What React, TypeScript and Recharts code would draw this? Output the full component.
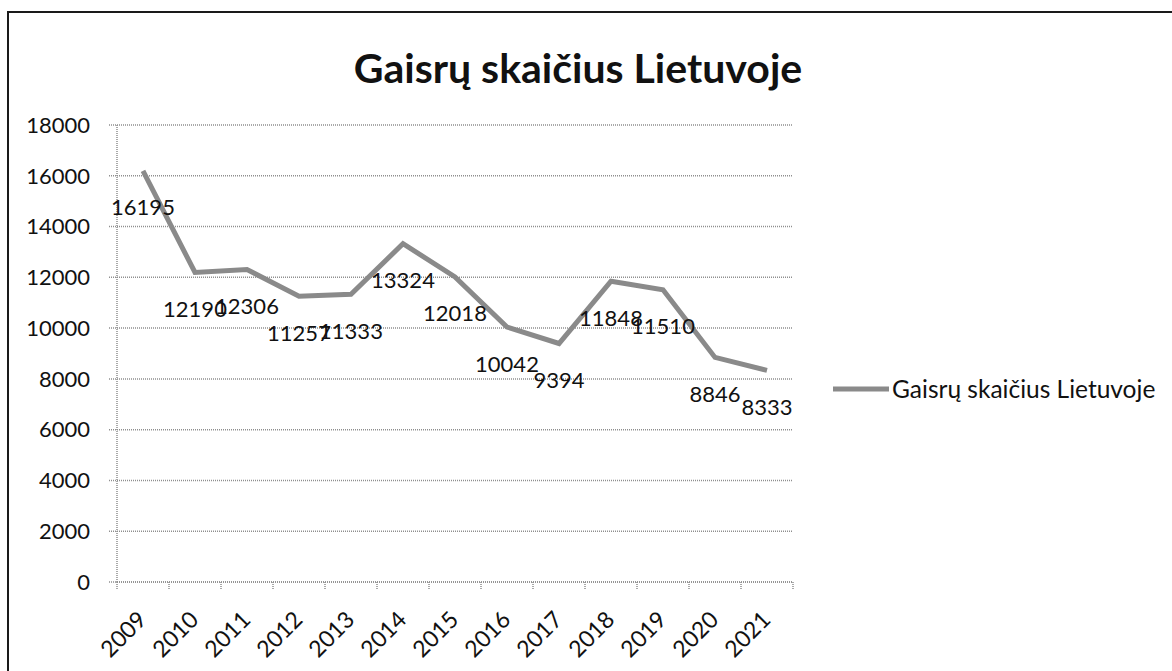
import React from 'react';
import { LineChart, Line, XAxis, YAxis, CartesianGrid, Legend, LabelList } from 'recharts';

const years = ['2009', '2010', '2011', '2012', '2013', '2014', '2015', '2016', '2017', '2018', '2019', '2020', '2021'];
const fires = [16195, 12190, 12306, 11257, 11333, 13324, 12018, 10042, 9394, 11848, 11510, 8846, 8333];
const yTicks = [0, 2000, 4000, 6000, 8000, 10000, 12000, 14000, 16000, 18000];
const seriesName = 'Gaisrų skaičius Lietuvoje';
const title = 'Gaisrų skaičius Lietuvoje';

const data = years.map((y, i) => ({ year: y, value: fires[i] }));

const FONT = 'Lato, "Open Sans", sans-serif';
const GRID = '#8f8f8f';
const LINE = '#8a8a8a';
const CHART_W = 1172;
const CHART_H = 671;
const PLOT_LEFT = 117;
const PLOT_RIGHT = 793;
const HALF_BAND = (PLOT_RIGHT - PLOT_LEFT) / years.length / 2;

const XTick = (props: any) => {
  const { x, y, payload, index } = props;
  const last = index === years.length - 1;
  return (
    <g>
      <line x1={x - HALF_BAND} x2={x - HALF_BAND} y1={y - 8} y2={y - 1} stroke={GRID} strokeWidth={1.5} strokeDasharray="1 1" />
      {last && (
        <line x1={x + HALF_BAND} x2={x + HALF_BAND} y1={y - 8} y2={y - 1} stroke={GRID} strokeWidth={1.5} strokeDasharray="1 1" />
      )}
      <text
        x={x + 5}
        y={y + 31}
        transform={`rotate(-45, ${x + 5}, ${y + 31})`}
        textAnchor="end"
        fontFamily={FONT}
        fontSize={23}
        fill="#111"
      >
        {payload.value}
      </text>
    </g>
  );
};

const PointLabel = (props: any) => {
  const { x, y, value } = props;
  return (
    <text x={x} y={y + 36} textAnchor="middle" dominantBaseline="central" fontFamily={FONT} fontSize={22} fill="#111">
      {value}
    </text>
  );
};

const LegendContent = () => (
  <div style={{ display: 'flex', alignItems: 'center', paddingLeft: 40, fontFamily: FONT, fontSize: 24.5, color: '#111', whiteSpace: 'nowrap' }}>
    <svg width={56} height={10} style={{ display: 'block', flexShrink: 0 }}>
      <line x1={0} x2={56} y1={5} y2={5} stroke={LINE} strokeWidth={5} />
    </svg>
    <span style={{ marginLeft: 3, flexShrink: 0 }}>{seriesName}</span>
  </div>
);

export default function App() {
  return (
    <div style={{ position: 'absolute', left: 0, top: 0, width: CHART_W, height: CHART_H, overflow: 'hidden', background: '#fff' }}>
      <div
        style={{
          position: 'absolute',
          left: 7,
          top: 11,
          width: 1200,
          height: 700,
          borderLeft: '2.5px solid #1a1a1a',
          borderTop: '2.5px solid #1a1a1a',
          boxSizing: 'border-box',
        }}
      />
      <div
        style={{
          position: 'absolute',
          left: 0,
          top: 44,
          width: 1156,
          textAlign: 'center',
          fontFamily: FONT,
          fontWeight: 700,
          fontSize: 41,
          lineHeight: '48px',
          color: '#111',
        }}
      >
        {title}
      </div>
      <div style={{ position: 'absolute', left: 0, top: 0 }}>
        <LineChart width={CHART_W} height={CHART_H} data={data} margin={{ top: 125, right: 9, bottom: 0, left: 0 }}>
          <CartesianGrid vertical={false} stroke={GRID} strokeWidth={1.5} strokeDasharray="1 1" />
          <XAxis
            dataKey="year"
            scale="band"
            height={89}
            tickLine={false}
            tickSize={6}
            tickMargin={2}
            axisLine={{ stroke: GRID, strokeWidth: 1.5, strokeDasharray: '1 1' }}
            tick={<XTick />}
            interval={0}
          />
          <YAxis
            width={117}
            domain={[0, 18000]}
            ticks={yTicks}
            interval={0}
            tickSize={8}
            tickMargin={19}
            tickLine={{ stroke: GRID, strokeWidth: 1.5, strokeDasharray: '1 1' }}
            axisLine={{ stroke: GRID, strokeWidth: 1.5, strokeDasharray: '1 1' }}
            tick={{ fontFamily: FONT, fontSize: 22, fill: '#111' }}
          />
          <Legend
            layout="vertical"
            align="right"
            verticalAlign="middle"
            width={370}
            content={<LegendContent />}
            wrapperStyle={{ top: 374 }}
          />
          <Line
            type="linear"
            dataKey="value"
            name={seriesName}
            stroke={LINE}
            strokeWidth={5}
            dot={false}
            activeDot={false}
            isAnimationActive={false}
          >
            <LabelList dataKey="value" content={<PointLabel />} />
          </Line>
        </LineChart>
      </div>
    </div>
  );
}
